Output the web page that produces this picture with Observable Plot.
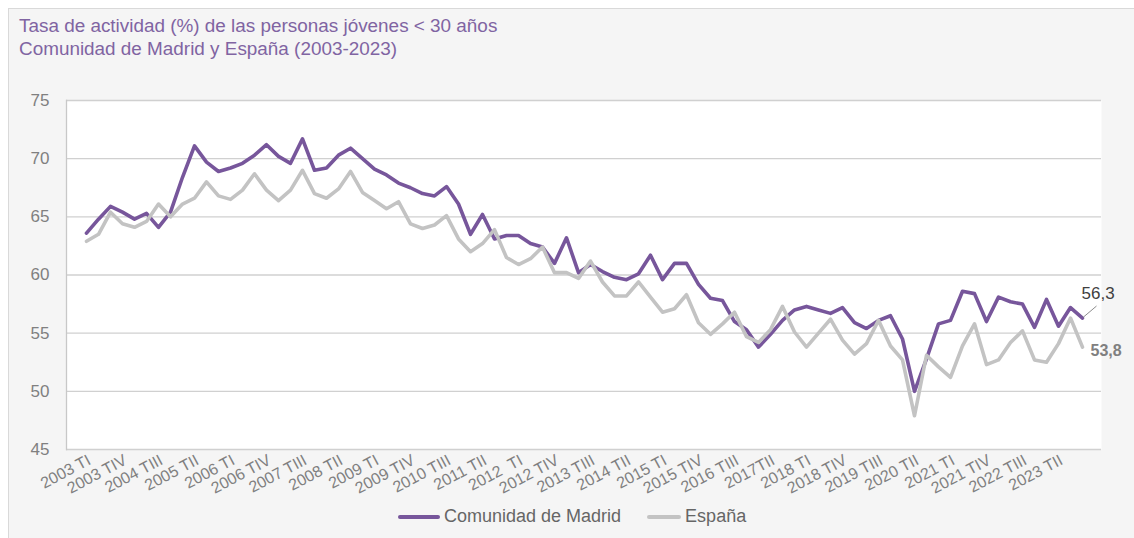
<!DOCTYPE html>
<html>
<head>
<meta charset="utf-8">
<script src="https://cdn.jsdelivr.net/npm/d3@7"></script>
<script src="https://cdn.jsdelivr.net/npm/@observablehq/plot@0.6"></script>
<style>
  html, body { margin: 0; padding: 0; }
  body { width: 1134px; height: 538px; position: relative; overflow: hidden; background: #ffffff;
         font-family: "Liberation Sans", Arial, sans-serif; }
  #panel { position: absolute; left: 8px; top: 8px; width: 1140px; height: 540px;
           background: #f5f5f5; border: 1px solid #d9d9d9; }
  #title { position: absolute; left: 19px; top: 14px; font-size: 18.9px; line-height: 23px; color: #8064a2; }
  #chart { position: absolute; left: 0; top: 0; }
  #legend { position: absolute; left: 398px; top: 506px; display: flex; align-items: center;
            font-size: 18px; color: #666666; white-space: nowrap; }
  .sw { width: 42px; height: 4px; border-radius: 2px; margin-right: 4px; }
</style>
</head>
<body>
<div id="panel"></div>
<div id="title">Tasa de actividad (%) de las personas jóvenes &lt; 30 años<br>Comunidad de Madrid y España (2003-2023)</div>
<div id="chart"></div>
<div id="legend">
  <span class="sw" style="background:#77569b"></span><span>Comunidad de Madrid</span>
  <span class="sw" style="background:#c3c3c3; margin-left:26px; width:34px"></span><span>España</span>
</div>
<script>
// ---- Data ----
const years = [2003, 2004, 2005, 2006, 2007, 2008, 2009, 2010, 2011, 2012, 2013,
               2014, 2015, 2016, 2017, 2018, 2019, 2020, 2021, 2022, 2023];
const quarterNames = ["TI", "TII", "TIII", "TIV"];

const madrid = [
  63.6, 64.8, 65.9, 65.4,  64.8, 65.3, 64.1, 65.4,
  68.4, 71.1, 69.7, 68.9,  69.2, 69.6, 70.3, 71.2,
  70.2, 69.6, 71.7, 69.0,  69.2, 70.3, 70.9, 70.0,
  69.1, 68.6, 67.9, 67.5,  67.0, 66.8, 67.6, 66.1,
  63.5, 65.2, 63.1, 63.4,  63.4, 62.7, 62.4, 61.0,
  63.2, 60.2, 60.9, 60.3,  59.8, 59.6, 60.1, 61.7,
  59.6, 61.0, 61.0, 59.2,  58.0, 57.8, 56.0, 55.3,
  53.8, 54.9, 56.1, 57.0,  57.3, 57.0, 56.7, 57.2,
  55.9, 55.4, 56.1, 56.5,  54.5, 50.0, 52.8, 55.8,
  56.1, 58.6, 58.4, 56.0,  58.1, 57.7, 57.5, 55.5,
  57.9, 55.6, 57.2, 56.3
];

const espana = [
  62.9, 63.5, 65.4, 64.4,  64.1, 64.6, 66.1, 65.0,
  66.1, 66.6, 68.0, 66.8,  66.5, 67.3, 68.7, 67.3,
  66.4, 67.3, 69.0, 67.0,  66.6, 67.4, 68.9, 67.1,
  66.4, 65.7, 66.3, 64.4,  64.0, 64.3, 65.1, 63.1,
  62.0, 62.7, 63.9, 61.5,  60.9, 61.4, 62.4, 60.2,
  60.2, 59.7, 61.2, 59.4,  58.2, 58.2, 59.4, 58.1,
  56.8, 57.1, 58.3, 55.9,  54.9, 55.8, 56.8, 54.7,
  54.2, 55.3, 57.3, 55.1,  53.8, 55.0, 56.2, 54.4,
  53.2, 54.1, 56.1, 53.9,  52.7, 47.9, 53.1, 52.1,
  51.2, 53.9, 55.8, 52.3,  52.7, 54.2, 55.2, 52.7,
  52.5, 54.1, 56.3, 53.8
];

const tickLabels = [
  "2003 TI", "2003 TIV", "2004 TIII", "2005 TII", "2006 TI", "2006 TIV", "2007 TIII",
  "2008 TII", "2009 TI", "2009 TIV", "2010 TIII", "2011 TII", "2012\u00a0\u00a0TI", "2012 TIV",
  "2013 TIII", "2014 TII", "2015 TI", "2015 TIV", "2016 TIII", "2017TII", "2018 TI",
  "2018 TIV", "2019 TIII", "2020 TII", "2021 TI", "2021 TIV", "2022 TIII", "2023 TII"
];

const yTicks = [45, 50, 55, 60, 65, 70, 75];

// ---- Build tables ----
const quarters = years.flatMap(y => quarterNames.map(q => `${y} ${q}`));
const madridRows = madrid.map((v, i) => ({quarter: quarters[i], value: v}));
const espanaRows = espana.map((v, i) => ({quarter: quarters[i], value: v}));
const tickQuarters = tickLabels.map((_, k) => quarters[k * 3]);
const labelOf = new Map(tickQuarters.map((q, k) => [q, tickLabels[k]]));
const fmt = v => v.toFixed(1).replace(".", ",");

const leader = {
  draw(ctx) { ctx.moveTo(1, -1); ctx.lineTo(14, -12); }
};

const chart = Plot.plot({
  width: 1134,
  height: 538,
  marginTop: 100,
  marginBottom: 89,
  marginLeft: 66,
  marginRight: 33,
  style: {background: "transparent", fontFamily: "'Liberation Sans', Arial, sans-serif"},
  x: {type: "point", domain: quarters, padding: 0.5, axis: null},
  y: {domain: [45, 75], axis: null},
  marks: [
    Plot.frame({fill: "white", stroke: "none"}),
    Plot.ruleY(yTicks, {stroke: "#d0d0d0", strokeWidth: 1.3}),
    Plot.frame({anchor: "left", stroke: "#c8c8c8", strokeWidth: 1.3}),
    Plot.axisY({ticks: yTicks, tickSize: 0, tickPadding: 17, fontSize: 17, fill: "#808080", label: null}),
    Plot.axisX({ticks: tickQuarters, tickFormat: q => labelOf.get(q), tickSize: 0, label: null,
                tickRotate: -28, fontSize: 16, fill: "#808080", dx: 3, dy: -3}),
    Plot.line(madridRows, {x: "quarter", y: "value", stroke: "#77569b", strokeWidth: 3.6,
                           strokeLinejoin: "round", strokeLinecap: "round"}),
    Plot.line(espanaRows, {x: "quarter", y: "value", stroke: "#c3c3c3", strokeWidth: 3.6,
                           strokeLinejoin: "round", strokeLinecap: "round"}),
    Plot.dot(madridRows.slice(-1), {x: "quarter", y: "value", symbol: leader, fill: "none",
                                    stroke: "#8c8c8c", strokeWidth: 1}),
    Plot.text(madridRows.slice(-1), {x: "quarter", y: "value", text: d => fmt(d.value),
                                     textAnchor: "start", dx: -1, dy: -24, fontSize: 17, fill: "#404040"}),
    Plot.text(espanaRows.slice(-1), {x: "quarter", y: "value", text: d => fmt(d.value),
                                     textAnchor: "start", dx: 8, dy: 4, fontSize: 16, fontWeight: "bold",
                                     fill: "#808080"})
  ]
});
document.getElementById("chart").appendChild(chart);
</script>
</body>
</html>
